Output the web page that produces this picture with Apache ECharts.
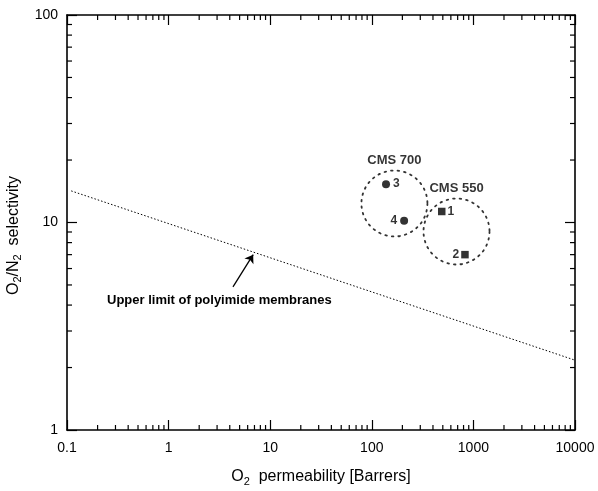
<!DOCTYPE html>
<html><head><meta charset="utf-8">
<script src="https://cdn.jsdelivr.net/npm/echarts@6/dist/echarts.min.js"></script>
<style>html,body{margin:0;padding:0;background:#fff}#c{width:598px;height:491px}</style>
</head><body><div id="c"></div>
<script>
// ---- data ----
const xTickLabels = ['0.1','1','10','100','1000','10000'];
const yTickLabels = ['1','10','100'];
const minorMantissa = [2,3,4,5,6,7,8,9];
const xDecades = [0.1, 1, 10, 100, 1000];
const yDecades = [1, 10];

const limitX = [0.11, 10000];
const limitY = [14.2, 2.17];

const circleX = [138, 208];
const circleY = [15.3, 10.2];
const circleLabels = ['3', '4'];

const squareX = [488, 826];
const squareY = [11.3, 7.0];
const squareLabels = ['1', '2'];

const groupNames = ['CMS 700', 'CMS 550'];
const groupX = [167, 682];
const groupY = [12.35, 9.05];

const arrowX = [4.3, 6.8];
const arrowY = [4.9, 7.0];

const annotationText = 'Upper limit of polyimide membranes';

// ---- build ----
const FONT = '"Liberation Sans", Arial, sans-serif';
const xMinor = [];
xDecades.forEach(d => minorMantissa.forEach(m => xMinor.push(+(d*m).toPrecision(6))));
const yMinor = [];
yDecades.forEach(d => minorMantissa.forEach(m => yMinor.push(+(d*m).toPrecision(6))));

const fmt = v => String(+(+v).toPrecision(6));
const axisLineStyle = {color:'#000', width:1.6};

function minorRender(dir) {
  return function(params, api) {
    const cs = params.coordSys;
    const v = api.value(dir === 'x' ? 0 : 1);
    const L = 5;
    const sty = {stroke:'#000', lineWidth:1.2};
    if (dir === 'x') {
      const x = api.coord([v, 10])[0];
      return {type:'group', children:[
        {type:'line', shape:{x1:x, y1:cs.y+cs.height, x2:x, y2:cs.y+cs.height-L}, style:sty},
        {type:'line', shape:{x1:x, y1:cs.y, x2:x, y2:cs.y+L}, style:sty}
      ]};
    } else {
      const y = api.coord([1, v])[1];
      return {type:'group', children:[
        {type:'line', shape:{x1:cs.x, y1:y, x2:cs.x+L, y2:y}, style:sty},
        {type:'line', shape:{x1:cs.x+cs.width, y1:y, x2:cs.x+cs.width-L, y2:y}, style:sty}
      ]};
    }
  };
}

const nameRich = {
  t:{fontFamily:FONT, fontSize:16, color:'#000'},
  s:{fontFamily:FONT, fontSize:11, color:'#000', verticalAlign:'bottom', padding:[9,0,0,0]},
  e:{width:26}
};

const chart = echarts.init(document.getElementById('c'), null, {renderer:'canvas'});
const option = {
  animation:false,
  backgroundColor:'#fff',
  grid:{left:67, right:23, top:15, bottom:61, containLabel:false, outerBoundsMode:'none'},
  xAxis:[{
    type:'log', logBase:10, min:0.1, max:10000, position:'bottom',
    axisLine:{show:true, lineStyle:axisLineStyle},
    axisTick:{show:true, inside:true, length:10, lineStyle:{color:'#000', width:1.2}},
    splitLine:{show:false},
    axisLabel:{show:true, color:'#000', fontFamily:FONT, fontSize:14, margin:11, formatter:fmt},
    name:'{t|O}{s|2}{t|  permeability [Barrers]}', nameLocation:'middle', nameGap:37,
    nameTextStyle:{rich:nameRich}
  },{
    type:'log', logBase:10, min:0.1, max:10000, position:'top',
    axisLine:{show:true, lineStyle:axisLineStyle},
    axisTick:{show:true, inside:true, length:10, lineStyle:{color:'#000', width:1.2}},
    splitLine:{show:false}, axisLabel:{show:false}
  }],
  yAxis:[{
    type:'log', logBase:10, min:1, max:100, position:'left',
    axisLine:{show:true, lineStyle:axisLineStyle},
    axisTick:{show:true, inside:true, length:10, lineStyle:{color:'#000', width:1.2}},
    splitLine:{show:false},
    axisLabel:{show:true, color:'#000', fontFamily:FONT, fontSize:14, margin:9, formatter:fmt},
    name:'{t|O}{s|2}{t|/N}{s|2}{t|  selectivity}{e|}', nameLocation:'middle', nameGap:39, nameRotate:90,
    nameTextStyle:{rich:nameRich}
  },{
    type:'log', logBase:10, min:1, max:100, position:'right',
    axisLine:{show:true, lineStyle:axisLineStyle},
    axisTick:{show:true, inside:true, length:10, lineStyle:{color:'#000', width:1.2}},
    splitLine:{show:false}, axisLabel:{show:false}
  }],
  series:[
    {type:'custom', xAxisIndex:0, yAxisIndex:0, silent:true, clip:false,
     renderItem:minorRender('x'), data:xMinor.map(v=>[v,10])},
    {type:'custom', xAxisIndex:0, yAxisIndex:0, silent:true, clip:false,
     renderItem:minorRender('y'), data:yMinor.map(v=>[1,v])},
    {type:'line', xAxisIndex:0, yAxisIndex:0, silent:true, symbol:'none',
     lineStyle:{color:'#000', width:1, type:[1.5,2]},
     data:limitX.map((x,i)=>[x, limitY[i]]),
     markLine:{silent:true, animation:false, symbol:['none','arrow'], symbolSize:8,
       label:{show:false}, lineStyle:{color:'#000', width:1.3, type:'solid'},
       itemStyle:{color:'#000'},
       data:[[{coord:[arrowX[0], arrowY[0]]},{coord:[arrowX[1], arrowY[1]]}]]}},
    {type:'scatter', xAxisIndex:0, yAxisIndex:0, silent:true, symbol:'circle', symbolSize:66,
     itemStyle:{color:'rgba(0,0,0,0)', borderColor:'#000', borderWidth:1.8, borderType:[1.6,5], borderCap:'round'},
     label:{show:true, position:'top', distance:3, formatter:p=>p.name, color:'#000',
       fontFamily:FONT, fontSize:13, fontWeight:'bold'},
     data:groupNames.map((n,i)=>({name:n, value:[groupX[i], groupY[i]]}))},
    {type:'scatter', xAxisIndex:0, yAxisIndex:0, silent:true, symbol:'circle', symbolSize:8,
     itemStyle:{color:'#000'},
     label:{show:true, formatter:p=>p.name, color:'#000', fontFamily:FONT, fontSize:12, fontWeight:'bold', distance:3},
     data:circleLabels.map((n,i)=>({name:n, value:[circleX[i], circleY[i]],
       label:{position: i===0 ? 'right' : 'left'}}))},
    {type:'scatter', xAxisIndex:0, yAxisIndex:0, silent:true, symbol:'rect', symbolSize:7.5,
     itemStyle:{color:'#000'},
     label:{show:true, formatter:p=>p.name, color:'#000', fontFamily:FONT, fontSize:12, fontWeight:'bold', distance:2},
     data:squareLabels.map((n,i)=>({name:n, value:[squareX[i], squareY[i]],
       label:{position: i===0 ? 'right' : 'left'}}))}
  ],
  graphic:[{
    type:'text', left:107, top:294, silent:true,
    style:{text:annotationText, fill:'#000', font:'bold 13px "Liberation Sans", Arial, sans-serif'}
  }]
};
chart.setOption(option);
</script></body></html>
